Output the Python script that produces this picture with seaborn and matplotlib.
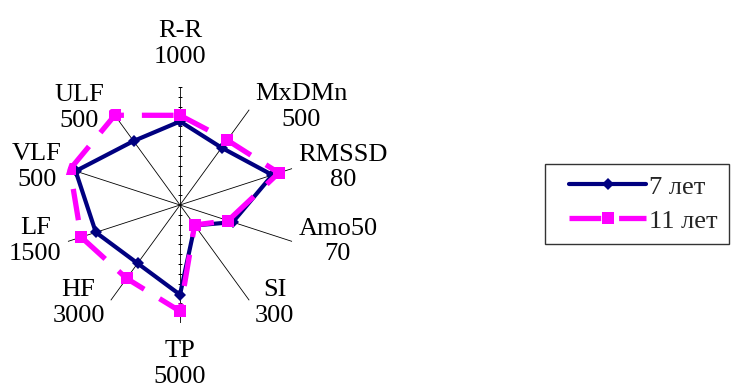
import numpy as np
import pandas as pd
import matplotlib
matplotlib.use("Agg")
import matplotlib.pyplot as plt
from matplotlib.legend_handler import HandlerLine2D
import seaborn as sns

# ---- data ----
categories = ["R-R", "MxDMn", "RMSSD", "Amo50", "SI", "TP", "HF", "LF", "VLF", "ULF"]
scale_max = [1000, 500, 80, 70, 300, 5000, 3000, 1500, 500, 500]
series_names = ["7 лет", "11 лет"]
values_7 = [850, 360, 79, 39.5, 77, 4560, 2200, 1350, 558, 402]
values_11 = [912, 408, 84.5, 36, 75.5, 5400, 2770, 1585, 588, 564]

# ---- layout ----
RMAX = 1.2
R_PX = 118.0
label_dist_px = [161, 156, 167, 162, 136, 159, 141, 149, 148, 140]
label_angle_deg = [0, 51, 77, 103, 136, 180, 226, 256, 285, 314]

sns.set_style("white")
plt.rcParams["font.family"] = ["Liberation Serif", "DejaVu Serif"]

W, H = 735, 392
fig = plt.figure(figsize=(W / 100, H / 100), dpi=100)
cx, cy = 180, 205
ax = fig.add_axes([(cx - R_PX) / W, (H - cy - R_PX) / H, 2 * R_PX / W, 2 * R_PX / H],
                  projection="polar")
ax.set_theta_zero_location("N")
ax.set_theta_direction(-1)
ax.set_ylim(0, RMAX)
ax.grid(False)
ax.set_xticks([])
ax.set_yticks([])
ax.spines["polar"].set_visible(False)
ax.set_facecolor("none")

n = len(categories)
thetas = np.arange(n) * 2 * np.pi / n

# spokes
ax.vlines(thetas, 0, RMAX, color="black", linewidth=0.6, zorder=1)
# axis tick marks on the vertical axis
tick_r = np.arange(1, 13) * 0.1
for t in (0.0, np.pi):
    ax.plot(np.full_like(tick_r, t), tick_r, linestyle="none", marker="_",
            markersize=2.2, color="black", markeredgewidth=0.6, zorder=1)

def frame(vals, name):
    r = [v / m for v, m in zip(vals, scale_max)]
    th = list(thetas) + [2 * np.pi]
    r = r + [r[0]]
    return pd.DataFrame({"theta": th, "r": r, "series": name})

df7 = frame(values_7, series_names[0])
df11 = frame(values_11, series_names[1])

sns.lineplot(data=df7, x="theta", y="r", sort=False, estimator=None, ax=ax,
             color="#000080", linewidth=3.0, marker="D", markersize=6,
             markeredgewidth=0, legend=False, zorder=3)
sns.lineplot(data=df11, x="theta", y="r", sort=False, estimator=None, ax=ax,
             color="#FF00FF", linewidth=3.8, marker="s", markersize=8,
             markeredgewidth=0, legend=False, zorder=4)
lines = ax.get_lines()
l7, l11 = lines[-2], lines[-1]
l11.set_dashes((6, 3.4))
l11.set_dash_capstyle("butt")
l7.set_solid_joinstyle("miter")
ax.set_xlabel("")
ax.set_ylabel("")
ax.set_ylim(0, RMAX)

# category labels
for cat, m, d, a in zip(categories, scale_max, label_dist_px, label_angle_deg):
    ax.text(np.deg2rad(a), d / R_PX * RMAX, f"{cat}\n{m}", ha="center", va="center",
            multialignment="center", fontsize=19, linespacing=1.22, color="black")

hm = {l7: HandlerLine2D(xpad=0.5), l11: HandlerLine2D(xpad=0.5)}
leg = fig.legend([l7, l11], series_names, loc="upper left",
                 bbox_to_anchor=(545 / W, 1 - 164 / H), fontsize=19,
                 handlelength=3.4, handletextpad=0.12, labelspacing=0.4,
                 borderpad=0.42, borderaxespad=0, frameon=True, fancybox=False,
                 numpoints=1, handler_map=hm)
leg.get_frame().set_edgecolor("black")
leg.get_frame().set_linewidth(1.0)

fig.savefig("out.png", dpi=100)
